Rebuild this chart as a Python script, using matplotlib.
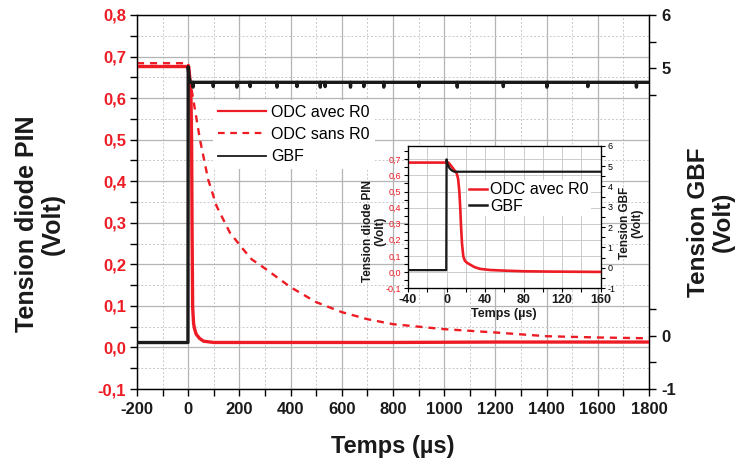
import matplotlib
matplotlib.use("Agg")
import matplotlib.pyplot as plt
from matplotlib.lines import Line2D
from matplotlib.ticker import MultipleLocator, FixedLocator

plt.rcParams['font.family'] = ['Liberation Sans', 'DejaVu Sans']

RED = '#ed1c24'
BLK = '#1a1a1a'

# ---------------- main chart data ----------------
avec_t = [-200, -1, 0, 2, 6, 10.5, 13.3, 15, 17.4, 21, 24.3, 31, 44, 60, 100, 400, 800, 1200, 1600, 1800]
avec_v = [0.676, 0.676, 0.676, 0.676, 0.65, 0.614, 0.5, 0.29, 0.097, 0.058, 0.046, 0.032, 0.022, 0.015, 0.012, 0.012, 0.012, 0.013, 0.013, 0.013]

sans_t = [-200, 0, 6.5, 20, 46, 78, 111, 163, 215, 248, 300, 400, 500, 600, 700, 800, 1000, 1200, 1400, 1600, 1800]
sans_v = [0.684, 0.684, 0.644, 0.596, 0.5, 0.404, 0.34, 0.276, 0.236, 0.212, 0.19, 0.145, 0.109, 0.085, 0.068, 0.056, 0.044, 0.036, 0.027, 0.024, 0.022]

gbf_t = [-200, -1, 0, 3, 8, 18, 19, 20, 97, 98, 99, 189, 190, 191, 241, 242, 243, 346, 347, 348,
         424, 425, 426, 515, 516, 517, 534, 535, 536, 633, 634, 635, 685, 686, 687, 763, 764, 765,
         900, 901, 902, 1050, 1051, 1052, 1230, 1231, 1232, 1400, 1401, 1402, 1560, 1561, 1562,
         1750, 1751, 1752, 1800]
gbf_v = [-0.13, -0.13, 5.03, 4.85, 4.74, 4.74, 4.65, 4.74, 4.74, 4.66, 4.74, 4.74, 4.65, 4.74, 4.74, 4.66, 4.74, 4.74, 4.65, 4.74,
         4.74, 4.66, 4.74, 4.74, 4.65, 4.74, 4.74, 4.66, 4.74, 4.74, 4.65, 4.74, 4.74, 4.66, 4.74, 4.74, 4.65, 4.74,
         4.74, 4.66, 4.74, 4.74, 4.65, 4.74, 4.74, 4.66, 4.74, 4.74, 4.65, 4.74, 4.74, 4.66, 4.74,
         4.74, 4.65, 4.74, 4.74]

x_ticks = [-200, 0, 200, 400, 600, 800, 1000, 1200, 1400, 1600, 1800]
y_ticks = [-0.1, 0.0, 0.1, 0.2, 0.3, 0.4, 0.5, 0.6, 0.7, 0.8]
y_labels = ['-0,1', '0,0', '0,1', '0,2', '0,3', '0,4', '0,5', '0,6', '0,7', '0,8']
y2_ticks = [-1, 0, 5, 6]
y2_labels = ['-1', '0', '5', '6']

# ---------------- inset data ----------------
in_avec_t = [-40, 0, 2, 6, 10.5, 12, 13.3, 14.2, 15, 16, 17.4, 19, 21, 24.3, 29, 34.7, 45, 60, 80, 110, 160]
in_avec_v = [0.68, 0.68, 0.68, 0.65, 0.614, 0.58, 0.5, 0.4, 0.29, 0.18, 0.097, 0.07, 0.058, 0.046, 0.03, 0.019, 0.012, 0.008, 0.004, 0.002, 0.0]
in_gbf_t = [-40, -0.3, 0, 1, 3, 5, 8, 160]
in_gbf_v = [-0.12, -0.12, 5.33, 5.1, 4.9, 4.8, 4.72, 4.72]

in_x_ticks = [-40, 0, 40, 80, 120, 160]
in_y_ticks = [-0.1, 0.0, 0.1, 0.2, 0.3, 0.4, 0.5, 0.6, 0.7]
in_y_labels = ['-0,1', '0,0', '0,1', '0,2', '0,3', '0,4', '0,5', '0,6', '0,7']
in_y2_ticks = [-1, 0, 1, 2, 3, 4, 5, 6]

W, H = 737, 462
fig = plt.figure(figsize=(W / 100, H / 100), dpi=100)

def fx(px):
    return px / W

def fy(py):
    return 1 - py / H

# ---------------- main axes ----------------
ax = fig.add_axes([fx(137), fy(389), (649 - 137) / W, (389 - 15) / H])
ax.set_xlim(-200, 1800)
ax.set_ylim(-0.1, 0.8)
ax.set_xticks(x_ticks)
ax.set_xticklabels([str(v) for v in x_ticks])
ax.xaxis.set_minor_locator(MultipleLocator(100))
ax.set_yticks(y_ticks)
ax.set_yticklabels(y_labels)
ax.yaxis.set_minor_locator(MultipleLocator(0.05))
ax.grid(True, which='major', color='#b4b4b4', lw=0.9, ls='-')
ax.grid(True, which='minor', color='#c8c8c8', lw=0.7, ls=(0, (2, 2)))
ax.set_axisbelow(True)
ax.tick_params(axis='both', which='both', direction='out', length=5, width=1, top=False, right=False)
ax.tick_params(axis='y', labelcolor=RED, labelsize=12, pad=3)
ax.tick_params(axis='x', labelcolor=BLK, labelsize=12, pad=4)
for lab in ax.get_xticklabels() + ax.get_yticklabels():
    lab.set_fontweight('bold')
for s in ax.spines.values():
    s.set_linewidth(1.0)
    s.set_color(BLK)

ax.plot(sans_t, sans_v, color=RED, lw=1.7, ls=(0, (3, 2.5)), zorder=3)
ax.plot(avec_t, avec_v, color=RED, lw=2.4, zorder=4)

ax2 = ax.twinx()
ax2.set_ylim(-1, 6)
ax2.yaxis.set_major_locator(FixedLocator(y2_ticks))
ax2.set_yticklabels(y2_labels)
ax2.yaxis.set_minor_locator(FixedLocator([-0.5, 0.5, 4.5, 5.5]))
ax2.tick_params(axis='y', which='both', direction='out', length=5, width=1, labelsize=12, labelcolor=BLK, pad=4)
for lab in ax2.get_yticklabels():
    lab.set_fontweight('bold')
ax2.plot(gbf_t, gbf_v, color=BLK, lw=2.4, zorder=5)

# main legend
h = [Line2D([], [], color=RED, lw=1.6),
     Line2D([], [], color=RED, lw=1.6, ls=(0, (3, 2.5))),
     Line2D([], [], color=BLK, lw=1.3)]
leg = ax2.legend(h, ['ODC avec R0', 'ODC sans R0', 'GBF'], loc='upper left',
                 bbox_to_anchor=(fx(213), fy(100)), bbox_transform=fig.transFigure,
                 fontsize=11.5, frameon=True, facecolor='white', edgecolor='none', framealpha=1,
                 handlelength=3.0, handletextpad=0.35, labelspacing=0.45, borderpad=0.3, borderaxespad=0)
leg.set_zorder(10)

# axis labels
fig.text(fx(40), fy(224), 'Tension diode PIN\n(Volt)', rotation=90, ha='center', va='center',
         fontsize=18, fontweight='bold', color=BLK, multialignment='center', linespacing=1.1)
fig.text(fx(711), fy(222), 'Tension GBF\n(Volt)', rotation=90, ha='center', va='center',
         fontsize=17.5, fontweight='bold', color=BLK, multialignment='center', linespacing=1.1)
fig.text(fx(393), fy(446), 'Temps (µs)', ha='center', va='center', fontsize=17, fontweight='bold', color=BLK)

# ---------------- inset ----------------
ia = fig.add_axes([fx(408), fy(288), (600.7 - 408) / W, (288 - 145.7) / H])
ia.set_zorder(20)
ia.set_facecolor('white')
ia.set_xlim(-40, 160)
ia.set_ylim(-0.1, 0.785)
ia.set_xticks(in_x_ticks)
ia.set_xticklabels([str(v) for v in in_x_ticks])
ia.xaxis.set_minor_locator(MultipleLocator(20))
ia.set_yticks(in_y_ticks)
ia.set_yticklabels(in_y_labels)
ia.yaxis.set_minor_locator(MultipleLocator(0.05))
ia.grid(True, which='major', color='#c4c4c4', lw=0.6)
ia.grid(True, which='minor', axis='x', color='#c4c4c4', lw=0.6)
ia.set_axisbelow(True)
ia.tick_params(axis='both', which='both', direction='out', length=3, width=0.8)
ia.tick_params(axis='y', labelsize=6.5, labelcolor=RED, pad=2)
ia.tick_params(axis='x', labelsize=9, labelcolor=BLK, pad=1.5)
for lab in ia.get_xticklabels():
    lab.set_fontweight('bold')
for s in ia.spines.values():
    s.set_linewidth(0.9)
ia.plot(in_avec_t, in_avec_v, color=RED, lw=1.9, zorder=3)

ib = ia.twinx()
ib.set_ylim(-1, 6)
ib.set_yticks(in_y2_ticks)
ib.set_yticklabels([str(v) for v in in_y2_ticks])
ib.yaxis.set_minor_locator(MultipleLocator(0.5))
ib.tick_params(axis='y', which='both', direction='out', length=3, width=0.8, labelsize=6.5, pad=2)
ib.plot(in_gbf_t, in_gbf_v, color=BLK, lw=1.6, zorder=4)

ih = [Line2D([], [], color=RED, lw=1.8), Line2D([], [], color=BLK, lw=1.8)]
ileg = ib.legend(ih, ['ODC avec R0', 'GBF'], loc='upper left',
                 bbox_to_anchor=(fx(467), fy(180)), bbox_transform=fig.transFigure,
                 fontsize=11.5, frameon=True, facecolor='white', edgecolor='none', framealpha=1,
                 handlelength=1.1, handletextpad=0.2, labelspacing=0.1, borderpad=0.15, borderaxespad=0)

fig.text(fx(374), fy(231), 'Tension diode PIN\n(Volt)', rotation=90, ha='center', va='center',
         fontsize=8.5, fontweight='bold', color=BLK, multialignment='center', linespacing=1.05, zorder=30)
fig.text(fx(631), fy(223), 'Tension GBF\n(Volt)', rotation=90, ha='center', va='center',
         fontsize=8.5, fontweight='bold', color=BLK, multialignment='center', linespacing=1.05, zorder=30)
fig.text(fx(504), fy(314), 'Temps (µs)', ha='center', va='center', fontsize=9, fontweight='bold', color=BLK, zorder=30)

fig.savefig('out.png', dpi=100)
